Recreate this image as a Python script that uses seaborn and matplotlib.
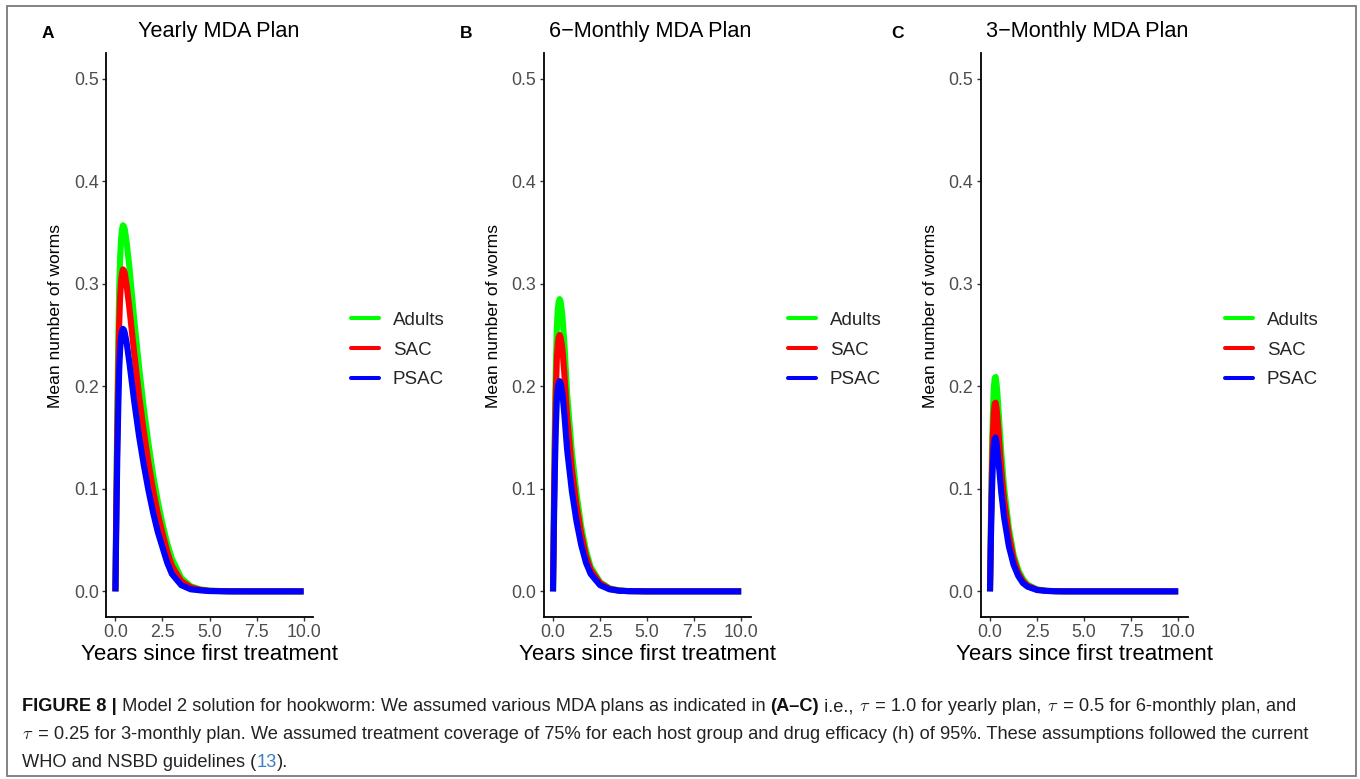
import numpy as np
import pandas as pd
import matplotlib
matplotlib.use("Agg")
import matplotlib.pyplot as plt
import seaborn as sns
from matplotlib.lines import Line2D
from matplotlib.patches import Rectangle

# ---------------- data ----------------
groups = ["Adults", "SAC", "PSAC"]
colors = {"Adults": "#00FF00", "SAC": "#FF0000", "PSAC": "#0000FF"}

# Panel A: yearly plan
t_yearly = [0, 0.05, 0.1, 0.15, 0.2, 0.25, 0.3, 0.35, 0.4, 0.45, 0.5, 0.6, 0.75, 1.0, 1.25,
            1.5, 1.75, 2.0, 2.25, 2.5, 2.75, 3.0, 3.5, 4.0, 4.5, 5.0, 6.0, 7.0, 8.0, 9.0, 10.0]
adults_yearly = [0, 0.095, 0.175, 0.240, 0.295, 0.325, 0.343, 0.353, 0.357, 0.356, 0.353,
                 0.340, 0.315, 0.265, 0.220, 0.180, 0.145, 0.114, 0.088, 0.066, 0.047,
                 0.032, 0.013, 0.005, 0.002, 0.0007, 0.0001, 0, 0, 0, 0]
sac_yearly = [0, 0.083, 0.155, 0.212, 0.260, 0.287, 0.302, 0.310, 0.314, 0.313, 0.310,
              0.298, 0.275, 0.232, 0.192, 0.157, 0.126, 0.099, 0.076, 0.057, 0.039,
              0.025, 0.010, 0.004, 0.0015, 0.0005, 0.0001, 0, 0, 0, 0]
psac_yearly = [0, 0.070, 0.130, 0.177, 0.215, 0.236, 0.248, 0.254, 0.256, 0.255, 0.252,
               0.242, 0.222, 0.185, 0.152, 0.124, 0.099, 0.077, 0.058, 0.043, 0.028,
               0.017, 0.006, 0.002, 0.001, 0.0003, 0, 0, 0, 0, 0]

# Panel B: 6-monthly plan
t_6m = [0, 0.05, 0.1, 0.15, 0.2, 0.25, 0.3, 0.35, 0.4, 0.45, 0.5, 0.6, 0.75, 1.0, 1.25,
        1.5, 1.75, 2.0, 2.5, 3.0, 3.5, 4.0, 5.0, 6.0, 7.0, 8.0, 9.0, 10.0]
adults_6m = [0, 0.090, 0.165, 0.220, 0.255, 0.274, 0.282, 0.285, 0.283, 0.277, 0.268,
             0.243, 0.193, 0.136, 0.095, 0.063, 0.040, 0.024, 0.009, 0.003, 0.001,
             0.0003, 0, 0, 0, 0, 0, 0]
sac_6m = [0, 0.079, 0.145, 0.193, 0.225, 0.241, 0.248, 0.250, 0.248, 0.243, 0.236,
          0.213, 0.170, 0.120, 0.084, 0.056, 0.035, 0.021, 0.008, 0.0025, 0.0008,
          0.0002, 0, 0, 0, 0, 0, 0]
psac_6m = [0, 0.065, 0.120, 0.159, 0.185, 0.198, 0.203, 0.205, 0.203, 0.199, 0.193,
           0.173, 0.138, 0.098, 0.068, 0.045, 0.028, 0.017, 0.006, 0.002, 0.0006,
           0.0002, 0, 0, 0, 0, 0, 0]

# Panel C: 3-monthly plan
t_3m = [0, 0.05, 0.1, 0.15, 0.2, 0.25, 0.3, 0.35, 0.4, 0.5, 0.6, 0.75, 1.0, 1.25, 1.5,
        1.75, 2.0, 2.5, 3.0, 3.5, 4.0, 5.0, 6.0, 7.0, 8.0, 9.0, 10.0]
adults_3m = [0, 0.072, 0.130, 0.172, 0.198, 0.208, 0.209, 0.202, 0.191, 0.163, 0.135,
             0.101, 0.062, 0.036, 0.021, 0.012, 0.0065, 0.0019, 0.0006, 0.0002, 0,
             0, 0, 0, 0, 0, 0]
sac_3m = [0, 0.064, 0.115, 0.152, 0.174, 0.183, 0.184, 0.178, 0.168, 0.143, 0.118,
          0.089, 0.055, 0.032, 0.018, 0.010, 0.0055, 0.0016, 0.0005, 0.0001, 0,
          0, 0, 0, 0, 0, 0]
psac_3m = [0, 0.052, 0.095, 0.124, 0.142, 0.149, 0.150, 0.145, 0.135, 0.117, 0.096,
           0.072, 0.044, 0.026, 0.015, 0.008, 0.0045, 0.0013, 0.0004, 0.0001, 0,
           0, 0, 0, 0, 0, 0]

panel_letters = ["A", "B", "C"]
panel_titles = ["Yearly MDA Plan", "6\u2212Monthly MDA Plan", "3\u2212Monthly MDA Plan"]
x_ticks = [0, 2.5, 5.0, 7.5, 10.0]
x_ticklabels = ["0.0", "2.5", "5.0", "7.5", "10.0"]
y_ticks = [0, 0.1, 0.2, 0.3, 0.4, 0.5]
y_ticklabels = ["0.0", "0.1", "0.2", "0.3", "0.4", "0.5"]
x_label = "Years since first treatment"
y_label = "Mean number of worms"

panels = [
    (t_yearly, adults_yearly, sac_yearly, psac_yearly),
    (t_6m, adults_6m, sac_6m, psac_6m),
    (t_3m, adults_3m, sac_3m, psac_3m),
]

# ---------------- style ----------------
sns.set_style("white")
plt.rcParams["font.family"] = ["Liberation Sans", "DejaVu Sans"]
plt.rcParams["mathtext.fontset"] = "cm"

W, H = 1360, 779
fig = plt.figure(figsize=(W / 100, H / 100), dpi=100)
fig.patch.set_facecolor("white")


def fx(x):
    return x / W


def fy(y):
    return 1 - y / H


# outer frame
fig.add_artist(Rectangle((fx(7), fy(776)), fx(1356) - fx(7), fy(6) - fy(776),
                         transform=fig.transFigure, fill=False,
                         edgecolor="#7a7a7a", linewidth=1.3))

ax_left_px = [106, 543.6, 980.6]
ax_w_px = 207
ax_top_px, ax_bot_px = 53, 617
ax_h_px = ax_bot_px - ax_top_px
title_cx = [219, 650, 1087]
letter_x = [48, 466, 898]
legend_x = [351, 788, 1225]

for i, (t, a, s, p) in enumerate(panels):
    ax = fig.add_axes([fx(ax_left_px[i]), fy(ax_bot_px), ax_w_px / W, ax_h_px / H])
    df = pd.DataFrame({
        "t": list(t) * 3,
        "value": list(a) + list(s) + list(p),
        "group": ["Adults"] * len(t) + ["SAC"] * len(t) + ["PSAC"] * len(t),
    })
    sns.lineplot(data=df, x="t", y="value", hue="group", hue_order=groups,
                 palette=colors, linewidth=4.4, legend=False, ax=ax,
                 estimator=None, sort=False, solid_capstyle="butt",
                 solid_joinstyle="round")
    ax.set_xlim(-0.5, 10.5)
    ax.set_ylim(-0.025, 0.525)
    ax.set_xticks(x_ticks)
    ax.set_xticklabels(x_ticklabels)
    ax.set_yticks(y_ticks)
    ax.set_yticklabels(y_ticklabels)
    for side in ["top", "right"]:
        ax.spines[side].set_visible(False)
    for side in ["left", "bottom"]:
        ax.spines[side].set_color("black")
        ax.spines[side].set_linewidth(1.3)
    ax.tick_params(axis="both", direction="out", length=3.2, width=1.0,
                   color="#333333", labelcolor="#4D4D4D", labelsize=12.8, pad=2,
                   bottom=True, left=True)
    ax.set_xlabel(x_label, fontsize=16, color="black")
    ax.xaxis.set_label_coords(0.5, (ax_bot_px - 644) / ax_h_px)
    ax.set_ylabel(y_label, fontsize=12.6, color="black")
    ax.yaxis.set_label_coords((63 - ax_left_px[0]) / ax_w_px, (ax_bot_px - 316) / ax_h_px)
    ax.set_facecolor("white")

    fig.text(fx(title_cx[i]), fy(32), panel_titles[i], ha="center", va="center",
             fontsize=15.6, color="black")
    fig.text(fx(letter_x[i]), fy(33), panel_letters[i], ha="center", va="center",
             fontsize=12.5, fontweight="bold", color="black")

    handles = [Line2D([0], [0], color=colors[g], lw=2.9) for g in groups]
    fig.legend(handles, groups, loc="center left",
               bbox_to_anchor=(fx(legend_x[i]), fy(350)), frameon=False,
               fontsize=13.5, handlelength=1.5, handletextpad=0.72,
               labelspacing=0.68, borderpad=0, borderaxespad=0)

# ---------------- caption ----------------
fig.canvas.draw()
renderer = fig.canvas.get_renderer()
cap_family = ["Liberation Sans", "DejaVu Sans"]
cap_size = 13.15
link = "#3f7fc4"
ink = "#222222"

lines = [
    [("FIGURE 8 |", "bold", "#111111"),
     (" Model 2 solution for hookworm: We assumed various MDA plans as indicated in ", "normal", ink),
     ("(A\u2013C)", "bold", "#111111"), (" i.e., ", "normal", ink), (r"$\tau$", "normal", ink),
     (" = 1.0 for yearly plan, ", "normal", ink), (r"$\tau$", "normal", ink),
     (" = 0.5 for 6-monthly plan, and", "normal", ink)],
    [(r"$\tau$", "normal", ink),
     (" = 0.25 for 3-monthly plan. We assumed treatment coverage of 75% for each host group and drug efficacy (h) of 95%. These assumptions followed the current", "normal", ink)],
    [("WHO and NSBD guidelines (", "normal", ink), ("13", "normal", link), (").", "normal", ink)],
]
baselines = [711, 739, 767]
for line, yb in zip(lines, baselines):
    x = 22
    for text, weight, col in line:
        txt = fig.text(fx(x), fy(yb), text, fontsize=cap_size, fontweight=weight,
                       color=col, family=cap_family, va="baseline", ha="left")
        bb = txt.get_window_extent(renderer)
        x += bb.width

fig.savefig("out.png", dpi=100, facecolor="white")
